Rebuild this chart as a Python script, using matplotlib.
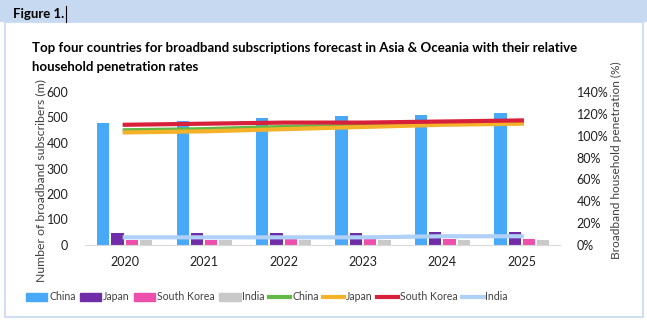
import matplotlib
matplotlib.use("Agg")
import matplotlib.pyplot as plt
import numpy as np
from matplotlib.patches import Rectangle, Patch
from matplotlib.lines import Line2D

plt.rcParams['font.family'] = ['Lato', 'DejaVu Sans']

years = ['2020', '2021', '2022', '2023', '2024', '2025']
countries = ['China', 'Japan', 'South Korea', 'India']

# subscribers (m)
subs_china = [480, 486, 498, 506, 510, 518]
subs_japan = [47, 47, 47, 48, 50, 51]
subs_korea = [21, 21, 22, 22, 23, 23]
subs_india = [20, 20, 20, 20, 20, 21]

# household penetration (%)
pen_china = [105, 106, 108, 109, 111, 112]
pen_japan = [103, 104, 106, 108, 110, 111]
pen_korea = [110, 111, 112, 112, 113, 114]
pen_india = [7, 7, 7, 7, 8, 8]

bar_cols = ['#48a9f8', '#6f2da8', '#ee4fad', '#c9c9c9']
line_cols = ['#62b946', '#f4b12a', '#d8203b', '#b0d0f7']

W, H = 647, 321
fig = plt.figure(figsize=(W / 100, H / 100), dpi=100)

# header bar and box
fig.patches.append(Rectangle((0, 1 - 22 / H), 1, 22 / H, transform=fig.transFigure,
                             facecolor='#c6d9f1', edgecolor='none', zorder=0))
fig.patches.append(Rectangle((5 / W, 4 / H), (643 - 5) / W, (H - 22 - 4) / H,
                             transform=fig.transFigure, facecolor='none',
                             edgecolor='#c6d9f1', lw=1.2, zorder=0))
fig.text(13 / W, 1 - 14 / H, 'Figure 1.', fontsize=9.5, fontweight='bold',
         va='center', ha='left')
fig.lines.append(Line2D([66 / W, 66 / W], [1 - 6 / H, 1 - 22 / H],
                        transform=fig.transFigure, color='black', lw=0.8))

fig.text(32 / W, 1 - 48 / H,
         'Top four countries for broadband subscriptions forecast in Asia & Oceania with their relative',
         fontsize=9.5, fontweight='bold', va='center', ha='left')
fig.text(32 / W, 1 - 67 / H, 'household penetration rates',
         fontsize=9.5, fontweight='bold', va='center', ha='left')

ax = fig.add_axes([85 / W, (H - 245) / H, (560 - 85) / W, (245 - 92) / H])
ax2 = ax.twinx()

x = np.arange(len(years))
offs = [-0.27, -0.09, 0.09, 0.27]
bw = 0.155
for vals, off, c in zip([subs_china, subs_japan, subs_korea, subs_india], offs, bar_cols):
    ax.bar(x + off, vals, bw, color=c, zorder=2)

for vals, c in zip([pen_china, pen_japan, pen_korea, pen_india], line_cols):
    ax2.plot(x, vals, color=c, lw=3, zorder=3)

ax.set_xlim(-0.5, 5.48)
ax.set_ylim(0, 600)
ax.set_yticks(range(0, 601, 100))
ax2.set_ylim(0, 140)
ax2.set_yticks(range(0, 141, 20))
ax2.set_yticklabels([f'{v}%' for v in range(0, 141, 20)])
ax.set_xticks(x)
ax.set_xticklabels(years)

for a in (ax, ax2):
    for s in a.spines.values():
        s.set_visible(False)
    a.tick_params(length=0, labelsize=9, colors='#404040', labelcolor='#202020')
ax.spines['bottom'].set_visible(True)
ax.spines['bottom'].set_color('#d9d9d9')
ax.tick_params(axis='x', pad=8)
ax.tick_params(axis='y', pad=12)
ax2.tick_params(axis='y', pad=12)

fig.text(41 / W, 1 - 181 / H, 'Number of broadband subscribers (m)', fontsize=8.8,
         color='#404040', rotation=90, ha='center', va='center')
fig.text(616 / W, 1 - 160 / H, 'Broadband household penetration (%)', fontsize=8.6,
         color='#404040', rotation=90, ha='center', va='center')

handles = [Patch(color=c, label=n) for c, n in zip(bar_cols, countries)]
handles += [Line2D([], [], color=c, lw=3, label=n) for c, n in zip(line_cols, countries)]
fig.legend(handles=handles, loc='center', bbox_to_anchor=(267 / W, 1 - 297 / H), ncol=8,
           frameon=False, fontsize=7.6, handlelength=2.0, handletextpad=0.15,
           columnspacing=0.45, labelcolor='#404040')

fig.savefig('out.png', dpi=100)
